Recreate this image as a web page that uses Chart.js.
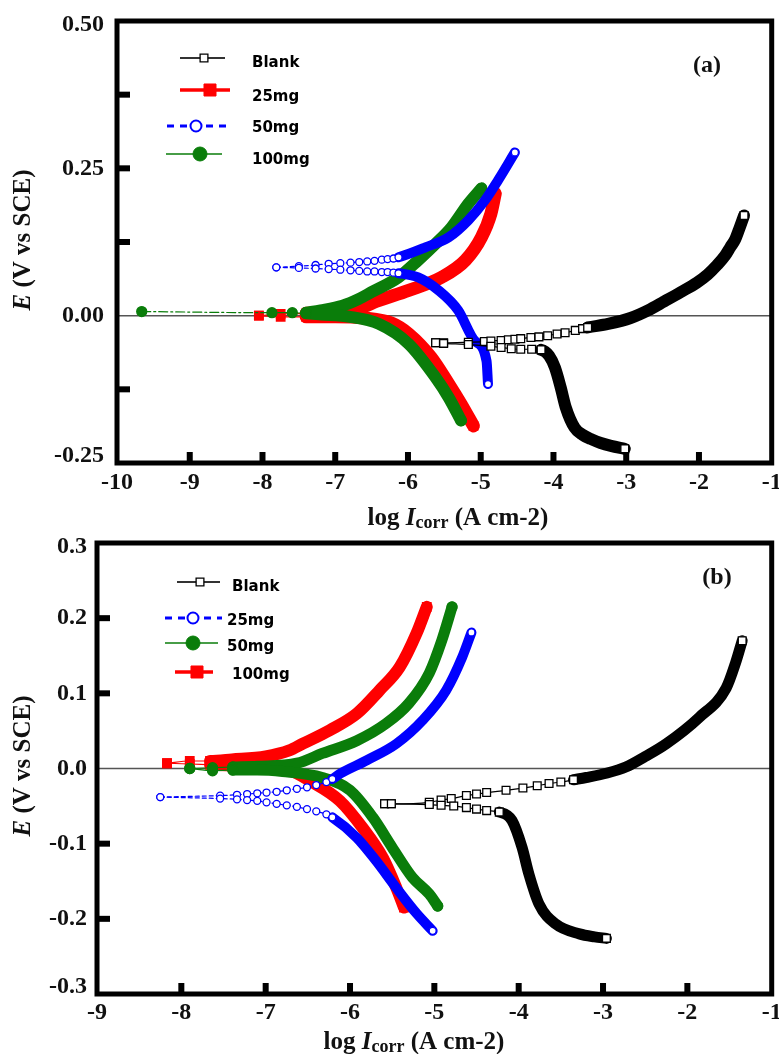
<!DOCTYPE html>
<html>
<head>
<meta charset="utf-8">
<script src="https://cdn.jsdelivr.net/npm/chart.js@4.4.0/dist/chart.umd.min.js"></script>
<style>
  html, body { margin: 0; padding: 0; background: #fff; }
  #wrap { position: relative; width: 779px; height: 1054px; overflow: hidden; }
  canvas { position: absolute; left: 0; }
  #chartA { top: 0; }
  #chartB { top: 530px; }
</style>
</head>
<body>
<div id="wrap">
  <canvas id="chartA" width="779" height="535"></canvas>
  <canvas id="chartB" width="779" height="524"></canvas>
</div>
<script>
// ---------- panel (a) ----------
const seriesA = ['Blank', '25mg', '50mg', '100mg'];
const xTicksA = [-10, -9, -8, -7, -6, -5, -4, -3, -2, -1];
const xTickLabelsA = ['-10', '-9', '-8', '-7', '-6', '-5', '-4', '-3', '-2', '-1'];
const yTicksA = [-0.25, 0, 0.25, 0.5];
const yTickLabelsA = ['-0.25', '0.00', '0.25', '0.50'];
const yMarksA = [-0.125, 0.125, 0.25, 0.375];

// each curve: cathodic branch (tip -> end) and anodic branch (tip -> end)
const blankA_cx = [-5.62, -5.51, -5.17, -4.86, -4.72, -4.58, -4.45, -4.30, -4.17, -4.06, -3.98, -3.90, -3.83, -3.71, -3.60, -3.49, -3.35, -3.21, -3.02];
const blankA_cy = [-0.046, -0.047, -0.049, -0.052, -0.054, -0.056, -0.057, -0.057, -0.058, -0.068, -0.088, -0.122, -0.156, -0.190, -0.202, -0.209, -0.216, -0.221, -0.226];
const blankA_ax = [-5.62, -5.51, -5.17, -4.95, -4.86, -4.72, -4.62, -4.53, -4.45, -4.31, -4.20, -4.08, -3.95, -3.84, -3.70, -3.60, -3.53, -3.25, -2.94, -2.70, -2.48, -2.25, -2.03, -1.88, -1.75, -1.64, -1.57, -1.50, -1.45, -1.38];
const blankA_ay = [-0.046, -0.046, -0.045, -0.044, -0.043, -0.042, -0.041, -0.040, -0.039, -0.037, -0.036, -0.034, -0.031, -0.029, -0.025, -0.022, -0.020, -0.014, -0.004, 0.009, 0.024, 0.040, 0.056, 0.070, 0.086, 0.102, 0.116, 0.130, 0.146, 0.170];

const redA_cx = [-8.05, -7.75, -7.40, -7.00, -6.60, -6.22, -5.99, -5.68, -5.44, -5.27, -5.10];
const redA_cy = [0.000, -0.002, -0.002, -0.002, -0.004, -0.013, -0.031, -0.071, -0.116, -0.150, -0.187];
const redA_ax = [-8.05, -7.75, -7.40, -7.00, -6.60, -6.44, -5.99, -5.54, -5.21, -4.99, -4.86, -4.80];
const redA_ay = [0.000, 0.003, 0.004, 0.008, 0.016, 0.024, 0.043, 0.065, 0.094, 0.133, 0.173, 0.207];

const blueA_cx = [-7.81, -7.50, -7.27, -7.09, -6.93, -6.79, -6.67, -6.56, -6.46, -6.36, -6.28, -6.20, -6.13, -5.86, -5.58, -5.31, -5.08, -4.92, -4.90];
const blueA_cy = [0.082, 0.081, 0.080, 0.079, 0.078, 0.077, 0.076, 0.075, 0.075, 0.074, 0.074, 0.073, 0.072, 0.065, 0.043, 0.009, -0.043, -0.077, -0.116];
const blueA_ax = [-7.81, -7.50, -7.27, -7.09, -6.93, -6.79, -6.67, -6.56, -6.46, -6.36, -6.28, -6.20, -6.13, -5.76, -5.44, -5.17, -4.94, -4.76, -4.53];
const blueA_ay = [0.082, 0.084, 0.086, 0.088, 0.089, 0.090, 0.091, 0.092, 0.093, 0.095, 0.096, 0.097, 0.099, 0.116, 0.133, 0.162, 0.196, 0.230, 0.277];

const greenA_cx = [-9.66, -7.87, -7.59, -7.40, -7.20, -6.80, -6.40, -5.99, -5.62, -5.44, -5.27];
const greenA_cy = [0.007, 0.005, 0.005, 0.004, 0.002, -0.002, -0.014, -0.048, -0.105, -0.139, -0.178];
const greenA_ax = [-7.40, -7.20, -6.90, -6.68, -6.50, -6.13, -5.86, -5.62, -5.40, -5.17, -4.99];
const greenA_ay = [0.005, 0.009, 0.017, 0.028, 0.040, 0.065, 0.094, 0.122, 0.150, 0.190, 0.216];

// ---------- panel (b) ----------
const seriesB = ['Blank', '25mg', '50mg', '100mg'];
const xTicksB = [-9, -8, -7, -6, -5, -4, -3, -2, -1];
const xTickLabelsB = ['-9', '-8', '-7', '-6', '-5', '-4', '-3', '-2', '-1'];
const yTicksB = [-0.3, -0.2, -0.1, 0, 0.1, 0.2, 0.3];
const yTickLabelsB = ['-0.3', '-0.2', '-0.1', '0.0', '0.1', '0.2', '0.3'];
const yMarksB = [-0.2, -0.1, 0.1, 0.2];

const blankB_cx = [-5.59, -5.51, -5.06, -4.92, -4.77, -4.62, -4.50, -4.38, -4.23, -4.08, -3.96, -3.88, -3.76, -3.56, -3.28, -3.10, -2.96];
const blankB_cy = [-0.047, -0.047, -0.048, -0.049, -0.050, -0.052, -0.054, -0.056, -0.058, -0.069, -0.105, -0.140, -0.180, -0.207, -0.220, -0.224, -0.226];
const blankB_ax = [-5.59, -5.51, -5.06, -4.92, -4.80, -4.62, -4.50, -4.38, -4.15, -3.95, -3.78, -3.64, -3.50, -3.35, -3.20, -2.95, -2.73, -2.50, -2.25, -1.86, -1.54, -1.43, -1.35];
const blankB_ay = [-0.047, -0.047, -0.045, -0.042, -0.040, -0.036, -0.034, -0.032, -0.029, -0.026, -0.023, -0.020, -0.018, -0.015, -0.012, -0.006, 0.002, 0.016, 0.033, 0.068, 0.107, 0.140, 0.170];

const blueB_cx = [-8.25, -7.54, -7.34, -7.22, -7.10, -6.99, -6.87, -6.75, -6.63, -6.51, -6.40, -6.28, -6.21, -5.92, -5.69, -5.45, -5.21, -5.02];
const blueB_cy = [-0.038, -0.040, -0.041, -0.042, -0.043, -0.045, -0.047, -0.049, -0.051, -0.054, -0.057, -0.061, -0.065, -0.092, -0.123, -0.159, -0.193, -0.216];
const blueB_ax = [-8.25, -7.54, -7.34, -7.22, -7.10, -6.99, -6.87, -6.75, -6.63, -6.51, -6.40, -6.28, -6.21, -6.12, -5.80, -5.45, -5.14, -4.86, -4.67, -4.56];
const blueB_ay = [-0.038, -0.036, -0.035, -0.034, -0.033, -0.032, -0.031, -0.029, -0.027, -0.025, -0.022, -0.018, -0.014, -0.007, 0.011, 0.033, 0.064, 0.104, 0.148, 0.181];

const greenB_cx = [-7.90, -7.63, -7.39, -7.10, -6.80, -6.33, -6.00, -5.73, -5.50, -5.26, -5.06, -4.96];
const greenB_cy = [0.000, -0.003, -0.002, -0.002, -0.004, -0.012, -0.029, -0.065, -0.105, -0.145, -0.167, -0.183];
const greenB_ax = [-7.90, -7.63, -7.39, -7.10, -6.63, -6.33, -5.92, -5.57, -5.30, -5.06, -4.91, -4.79];
const greenB_ay = [0.000, 0.001, 0.002, 0.003, 0.007, 0.020, 0.037, 0.060, 0.087, 0.127, 0.171, 0.215];

const redB_cx = [-8.17, -7.90, -7.66, -7.40, -7.00, -6.70, -6.48, -6.12, -5.85, -5.61, -5.45, -5.36];
const redB_cy = [0.007, 0.006, 0.005, 0.004, 0.002, -0.003, -0.016, -0.043, -0.079, -0.119, -0.159, -0.185];
const redB_ax = [-8.17, -7.90, -7.66, -7.40, -7.00, -6.72, -6.56, -6.24, -5.92, -5.65, -5.41, -5.21, -5.09];
const redB_ay = [0.007, 0.010, 0.010, 0.012, 0.016, 0.024, 0.033, 0.051, 0.073, 0.104, 0.135, 0.180, 0.215];

// ---------- styles ----------
const BLANK = { color: '#000000', fill: '#ffffff', marker: 'rect', r: 5.5, dash: [], order: 1 };
const BLUE = { color: '#0000ff', fill: '#ffffff', marker: 'circle', r: 3.5, dash: [4, 3], order: 2 };
const GREEN = { color: '#0a7d0a', fill: '#0a7d0a', marker: 'circle', r: 5, dash: [], order: 3 };
const RED = { color: '#ff0000', fill: '#ff0000', marker: 'rect', r: 6, dash: [], order: 4 };
const SERIF = '"Liberation Serif", "Times New Roman", serif';
const SANS = '"DejaVu Sans", Verdana, sans-serif';

function pts(xs, ys) {
  return xs.map((x, i) => ({ x: x, y: ys[i] }));
}

// sparse = number of points near the tip drawn as separate markers on a thin line,
// the rest is so dense in the original that it reads as a thick band
function branch(xs, ys, st, band, sparse, dash) {
  const last = xs.length - 1;
  const d = dash || st.dash;
  return {
    data: pts(xs, ys),
    showLine: true,
    order: st.order,
    borderColor: st.color,
    backgroundColor: st.fill,
    borderWidth: band,
    cubicInterpolationMode: 'monotone',
    borderCapStyle: 'round',
    borderJoinStyle: 'round',
    pointStyle: st.marker,
    pointBorderColor: st.color,
    pointBackgroundColor: st.fill,
    pointBorderWidth: 1.3,
    pointRadius: c => (c.dataIndex < sparse || c.dataIndex === last) ? st.r : 0,
    pointHoverRadius: 0,
    segment: {
      borderWidth: c => c.p1DataIndex < sparse ? 1.2 : band,
      borderDash: c => c.p1DataIndex < sparse ? d : []
    }
  };
}

function drawMarker(ctx, st, x, y, r, lw) {
  ctx.save();
  ctx.fillStyle = st.fill;
  ctx.strokeStyle = st.color;
  ctx.lineWidth = lw;
  ctx.setLineDash([]);
  ctx.beginPath();
  if (st.marker === 'rect') {
    const s = r * Math.SQRT1_2;
    ctx.rect(x - s, y - s, 2 * s, 2 * s);
  } else {
    ctx.arc(x, y, r, 0, Math.PI * 2);
  }
  ctx.fill();
  ctx.stroke();
  ctx.restore();
}

function makeDecor(cfg) {
  return {
    id: 'decor',
    beforeDatasetsDraw(chart) {
      const { ctx, chartArea: a, scales: { y } } = chart;
      const y0 = y.getPixelForValue(0);
      ctx.save();
      ctx.strokeStyle = '#555';
      ctx.lineWidth = 1.5;
      ctx.beginPath();
      ctx.moveTo(a.left, y0);
      ctx.lineTo(a.right, y0);
      ctx.stroke();
      ctx.restore();
    },
    afterDraw(chart) {
      const { ctx, chartArea: a, scales: { x, y } } = chart;
      ctx.save();
      // frame
      ctx.strokeStyle = '#000';
      ctx.lineWidth = 5;
      ctx.strokeRect(a.left, a.top, a.right - a.left, a.bottom - a.top);
      // inward ticks
      ctx.fillStyle = '#000';
      cfg.xMarks.forEach(v => {
        const px = x.getPixelForValue(v);
        ctx.fillRect(px - 3, a.bottom - 11, 6, 11);
      });
      cfg.yMarks.forEach(v => {
        const py = y.getPixelForValue(v);
        ctx.fillRect(a.left, py - 3, 13, 6);
      });
      // tick labels
      ctx.fillStyle = '#111';
      ctx.font = 'bold ' + cfg.tickSize + 'px ' + SERIF;
      ctx.textAlign = 'center';
      ctx.textBaseline = 'middle';
      cfg.xTicks.forEach((v, i) => {
        ctx.fillText(cfg.xLabels[i], x.getPixelForValue(v), a.bottom + cfg.xLabelGap);
      });
      ctx.textAlign = 'right';
      cfg.yTicks.forEach((v, i) => {
        let py = y.getPixelForValue(v);
        py = Math.min(Math.max(py, a.top + 4), a.bottom - 7);
        ctx.fillText(cfg.yLabels[i], a.left - cfg.yLabelGap, py);
      });

      // x title: log Icorr (A cm-2)
      const parts = [
        { t: 'log ', f: 'bold 25px ' + SERIF, dy: 0 },
        { t: 'I', f: 'italic bold 25px ' + SERIF, dy: 0 },
        { t: 'corr', f: 'bold 18px ' + SERIF, dy: 4 },
        { t: ' (A cm-2)', f: 'bold 25px ' + SERIF, dy: 0 }
      ];
      let total = 0;
      parts.forEach(p => { ctx.font = p.f; p.w = ctx.measureText(p.t).width; total += p.w; });
      let cx = cfg.xTitle[0] - total / 2;
      ctx.textAlign = 'left';
      ctx.textBaseline = 'middle';
      parts.forEach(p => {
        ctx.font = p.f;
        ctx.fillText(p.t, cx, cfg.xTitle[1] + p.dy);
        cx += p.w;
      });

      // y title: E (V vs SCE)
      ctx.save();
      ctx.translate(cfg.yTitle[0], cfg.yTitle[1]);
      ctx.rotate(-Math.PI / 2);
      const yp = [
        { t: 'E', f: 'italic bold 25px ' + SERIF },
        { t: ' (V vs SCE)', f: 'bold 25px ' + SERIF }
      ];
      let tw = 0;
      yp.forEach(p => { ctx.font = p.f; p.w = ctx.measureText(p.t).width; tw += p.w; });
      let tx = -tw / 2;
      yp.forEach(p => {
        ctx.font = p.f;
        ctx.fillText(p.t, tx, 0);
        tx += p.w;
      });
      ctx.restore();

      // panel label
      ctx.font = 'bold 24px ' + SERIF;
      ctx.textAlign = 'center';
      ctx.fillStyle = '#111';
      ctx.fillText(cfg.panel[0], cfg.panel[1], cfg.panel[2]);

      // legend
      cfg.legend.forEach((it, i) => {
        ctx.save();
        ctx.strokeStyle = it.lineColor || it.st.color;
        ctx.lineWidth = it.lw;
        ctx.setLineDash(it.dash || []);
        ctx.beginPath();
        ctx.moveTo(it.x1, it.y);
        ctx.lineTo(it.x2, it.y);
        ctx.stroke();
        ctx.restore();
        drawMarker(ctx, it.st, it.mx, it.y, it.mr, it.mlw);
        ctx.font = 'bold 15px ' + SANS;
        ctx.fillStyle = '#000';
        ctx.textAlign = 'left';
        ctx.textBaseline = 'middle';
        ctx.fillText(cfg.names[i], it.tx, it.ty);
      });
      ctx.restore();
    }
  };
}

const baseOptions = (pad, xmin, xmax, ymin, ymax) => ({
  responsive: false,
  animation: false,
  events: [],
  layout: { padding: pad },
  plugins: { legend: { display: false }, tooltip: { enabled: false } },
  scales: {
    x: { type: 'linear', min: xmin, max: xmax, display: false },
    y: { type: 'linear', min: ymin, max: ymax, display: false }
  }
});

// ---------- chart (a) ----------
new Chart(document.getElementById('chartA'), {
  type: 'scatter',
  data: {
    datasets: [
      branch(redA_cx, redA_cy, RED, 13, 3),
      branch(redA_ax, redA_ay, RED, 13, 3),
      branch(greenA_cx, greenA_cy, GREEN, 12, 4, [9, 3, 2, 3]),
      branch(greenA_ax, greenA_ay, GREEN, 12, 1),
      branch(blueA_cx, blueA_cy, BLUE, 10, 13),
      branch(blueA_ax, blueA_ay, BLUE, 10, 13),
      branch(blankA_cx, blankA_cy, BLANK, 12, 9),
      branch(blankA_ax, blankA_ay, BLANK, 12, 17)
    ]
  },
  options: baseOptions({ left: 117, top: 21, right: 4, bottom: 72 }, -10, -1, -0.25, 0.5),
  plugins: [makeDecor({
    xTicks: xTicksA, xLabels: xTickLabelsA, yTicks: yTicksA, yLabels: yTickLabelsA,
    xMarks: [-9, -8, -7, -6, -5, -4, -3, -2], yMarks: yMarksA,
    tickSize: 24, xLabelGap: 20, yLabelGap: 13,
    xTitle: [458, 519], yTitle: [24, 240],
    panel: ['(a)', 707, 66],
    names: seriesA,
    legend: [
      { st: BLANK, lineColor: '#333', lw: 2.2, x1: 180, x2: 225, y: 58, mx: 204, mr: 5.5, mlw: 1.3, tx: 252, ty: 63 },
      { st: RED, lw: 3.5, x1: 180, x2: 230, y: 90, mx: 210, mr: 8.5, mlw: 1, tx: 252, ty: 97 },
      { st: BLUE, lw: 3, dash: [7, 6], x1: 167, x2: 226, y: 126, mx: 196, mr: 5.5, mlw: 2, tx: 252, ty: 128 },
      { st: GREEN, lw: 1.5, x1: 166, x2: 222, y: 154, mx: 200, mr: 7, mlw: 1, tx: 252, ty: 160 }
    ]
  })]
});

// ---------- chart (b) ----------
new Chart(document.getElementById('chartB'), {
  type: 'scatter',
  data: {
    datasets: [
      branch(redB_cx, redB_cy, RED, 12, 3),
      branch(redB_ax, redB_ay, RED, 12, 3),
      branch(greenB_cx, greenB_cy, GREEN, 11, 3),
      branch(greenB_ax, greenB_ay, GREEN, 11, 3),
      branch(blueB_cx, blueB_cy, BLUE, 10, 13),
      branch(blueB_ax, blueB_ay, BLUE, 10, 13),
      branch(blankB_cx, blankB_cy, BLANK, 11, 9),
      branch(blankB_ax, blankB_ay, BLANK, 11, 14)
    ]
  },
  options: baseOptions({ left: 97, top: 13, right: 6, bottom: 60 }, -9, -1, -0.3, 0.3),
  plugins: [makeDecor({
    xTicks: xTicksB, xLabels: xTickLabelsB, yTicks: yTicksB, yLabels: yTickLabelsB,
    xMarks: [-8, -7, -6, -5, -4, -3, -2], yMarks: yMarksB,
    tickSize: 24, xLabelGap: 19, yLabelGap: 10,
    xTitle: [414, 513], yTitle: [24, 236],
    panel: ['(b)', 717, 48],
    names: seriesB,
    legend: [
      { st: BLANK, lineColor: '#333', lw: 2.2, x1: 177, x2: 220, y: 52, mx: 200, mr: 5.5, mlw: 1.3, tx: 232, ty: 57 },
      { st: BLUE, lw: 3, dash: [7, 6], x1: 165, x2: 222, y: 88, mx: 193, mr: 5.5, mlw: 2, tx: 227, ty: 91 },
      { st: GREEN, lw: 1.5, x1: 165, x2: 218, y: 113, mx: 193, mr: 7, mlw: 1, tx: 227, ty: 117 },
      { st: RED, lw: 3.5, x1: 175, x2: 213, y: 142, mx: 197, mr: 8.5, mlw: 1, tx: 232, ty: 145 }
    ]
  })]
});
</script>
</body>
</html>
